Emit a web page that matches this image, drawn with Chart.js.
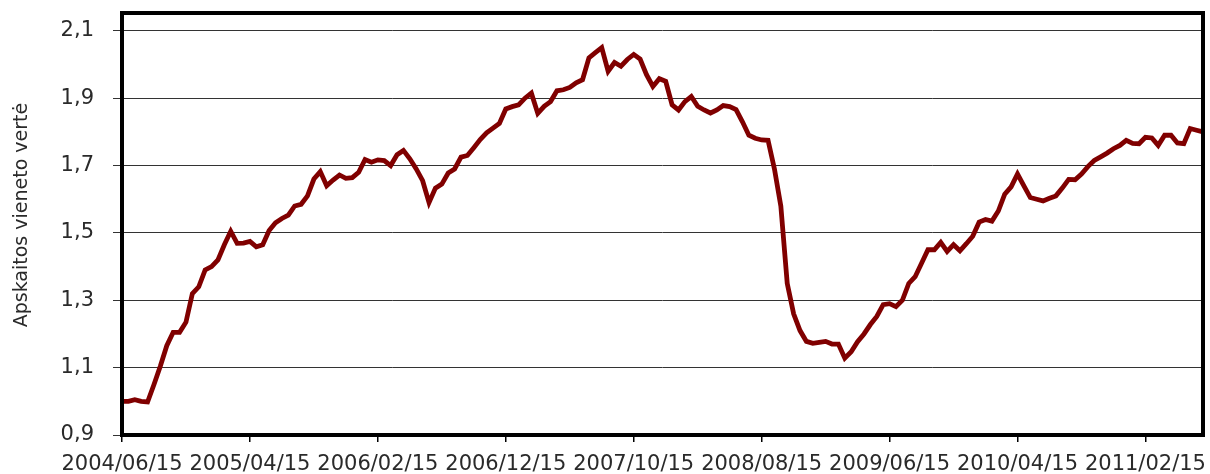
<!DOCTYPE html>
<html>
<head>
<meta charset="utf-8">
<script src="https://cdn.jsdelivr.net/npm/chart.js@4.4.1/dist/chart.umd.min.js"></script>
<style>
  html, body { margin: 0; padding: 0; background: #fff; }
  #wrap { width: 1210px; height: 474px; position: relative; }
</style>
</head>
<body>
<div id="wrap"><canvas id="c" width="1210" height="474"></canvas></div>
<script>
// Semi-monthly observation dates starting 2004/06/15
const startYear = 2004, startMonth = 6;
const pointCount = 170;
const categories = [];
for (let i = 0; i < pointCount; i++) {
  const m = startMonth - 1 + Math.floor(i / 2);
  const y = startYear + Math.floor(m / 12);
  const mm = (m % 12) + 1;
  const dd = i % 2 === 0 ? 15 : 30;
  categories.push(y + '/' + String(mm).padStart(2, '0') + '/' + String(dd).padStart(2, '0'));
}

// Unit value
const unitValue = [
  1.000, 1.000, 1.005, 1.000, 0.998, 1.050, 1.105, 1.165, 1.205, 1.205,
  1.235, 1.320, 1.340, 1.390, 1.400, 1.420, 1.465, 1.505, 1.469, 1.470,
  1.475, 1.459, 1.465, 1.507, 1.530, 1.543, 1.553, 1.580, 1.585, 1.610,
  1.660, 1.682, 1.640, 1.657, 1.672, 1.662, 1.664, 1.680, 1.718, 1.710,
  1.717, 1.715, 1.700, 1.732, 1.745, 1.720, 1.690, 1.655, 1.590, 1.633,
  1.645, 1.678, 1.690, 1.725, 1.730, 1.753, 1.777, 1.797, 1.811, 1.825,
  1.868, 1.875, 1.880, 1.900, 1.915, 1.855, 1.876, 1.890, 1.922, 1.925,
  1.932, 1.946, 1.955, 2.020, 2.035, 2.050, 1.980, 2.006, 1.995, 2.015,
  2.030, 2.016, 1.970, 1.935, 1.958, 1.950, 1.880, 1.865, 1.890, 1.905,
  1.876, 1.865, 1.856, 1.865, 1.878, 1.875, 1.866, 1.830, 1.790, 1.781,
  1.776, 1.775, 1.690, 1.580, 1.350, 1.260, 1.210, 1.178, 1.172, 1.175,
  1.178, 1.170, 1.170, 1.128, 1.147, 1.177, 1.200, 1.228, 1.252, 1.287,
  1.290, 1.281, 1.300, 1.350, 1.370, 1.410, 1.450, 1.450, 1.472, 1.445,
  1.465, 1.447, 1.468, 1.490, 1.532, 1.540, 1.535, 1.565, 1.615, 1.637,
  1.675, 1.640, 1.605, 1.600, 1.595, 1.603, 1.610, 1.633, 1.659, 1.658,
  1.675, 1.697, 1.715, 1.726, 1.737, 1.750, 1.760, 1.775, 1.766, 1.765,
  1.784, 1.782, 1.760, 1.790, 1.790, 1.767, 1.765, 1.810, 1.805, 1.800
];

const yTicks = [0.9, 1.1, 1.3, 1.5, 1.7, 1.9, 2.1];
const xTickLabels = ['2004/06/15', '2005/04/15', '2006/02/15', '2006/12/15', '2007/10/15',
                     '2008/08/15', '2009/06/15', '2010/04/15', '2011/02/15'];
const yTitle = 'Apskaitos vieneto vertė';

const FONT = "'DejaVu Sans', sans-serif";
const TEXT = '#2a2a2a';

const boxPlugin = {
  id: 'box',
  afterDatasetsDraw(chart) {
    const a = chart.chartArea, ctx = chart.ctx;
    ctx.save();
    ctx.strokeStyle = '#000';
    ctx.lineWidth = 4;
    ctx.strokeRect(a.left, a.top, a.right - a.left, a.bottom - a.top);
    ctx.restore();
  }
};
const yTitlePlugin = {
  id: 'ytitle',
  afterDraw(chart) {
    const ctx = chart.ctx;
    ctx.save();
    ctx.translate(22, 215);
    ctx.rotate(-Math.PI / 2);
    ctx.font = '19px ' + FONT;
    ctx.fillStyle = TEXT;
    ctx.textAlign = 'center';
    ctx.textBaseline = 'middle';
    ctx.fillText(yTitle, 0, 0);
    ctx.restore();
  }
};

function noPad(s) {
  s.paddingLeft = 0; s.paddingRight = 0; s.paddingTop = 0; s.paddingBottom = 0;
}

new Chart(document.getElementById('c'), {
  type: 'line',
  data: {
    labels: categories,
    datasets: [{
      data: unitValue,
      borderColor: 'rgb(128,0,0)',
      borderWidth: 4.8,
      pointRadius: 0,
      tension: 0,
      fill: false
    }]
  },
  options: {
    responsive: false,
    animation: false,
    events: [],
    layout: { padding: { left: 0, top: 13, right: 7, bottom: 0 } },
    plugins: { legend: { display: false }, tooltip: { enabled: false } },
    scales: {
      x: {
        type: 'category',
        offset: false,
        border: { display: false },
        grid: { drawOnChartArea: false, drawTicks: true, tickLength: 7, color: '#000', lineWidth: 1.5 },
        ticks: {
          autoSkip: false, maxRotation: 0, minRotation: 0,
          padding: 10,
          color: TEXT,
          font: { family: FONT, size: 21 },
          callback: function (v, i) {
            const lbl = this.getLabelForValue(v);
            return xTickLabels.includes(lbl) ? lbl : null;
          }
        },
        afterBuildTicks: (s) => {
          s.ticks = s.ticks.filter(t => xTickLabels.includes(categories[t.value]));
        },
        afterFit: (s) => { s.height = 39; noPad(s); }
      },
      y: {
        min: 0.9,
        max: 2.153,
        border: { display: false },
        grid: { color: '#333', lineWidth: 1, drawTicks: true, tickLength: 9 },
        ticks: {
          padding: 19,
          color: TEXT,
          font: { family: FONT, size: 21 },
          callback: (v) => v.toFixed(1).replace('.', ',')
        },
        afterBuildTicks: (s) => { s.ticks = yTicks.map(v => ({ value: v })); },
        afterFit: (s) => { s.width = 122; noPad(s); }
      }
    }
  },
  plugins: [boxPlugin, yTitlePlugin]
});
</script>
</body>
</html>
